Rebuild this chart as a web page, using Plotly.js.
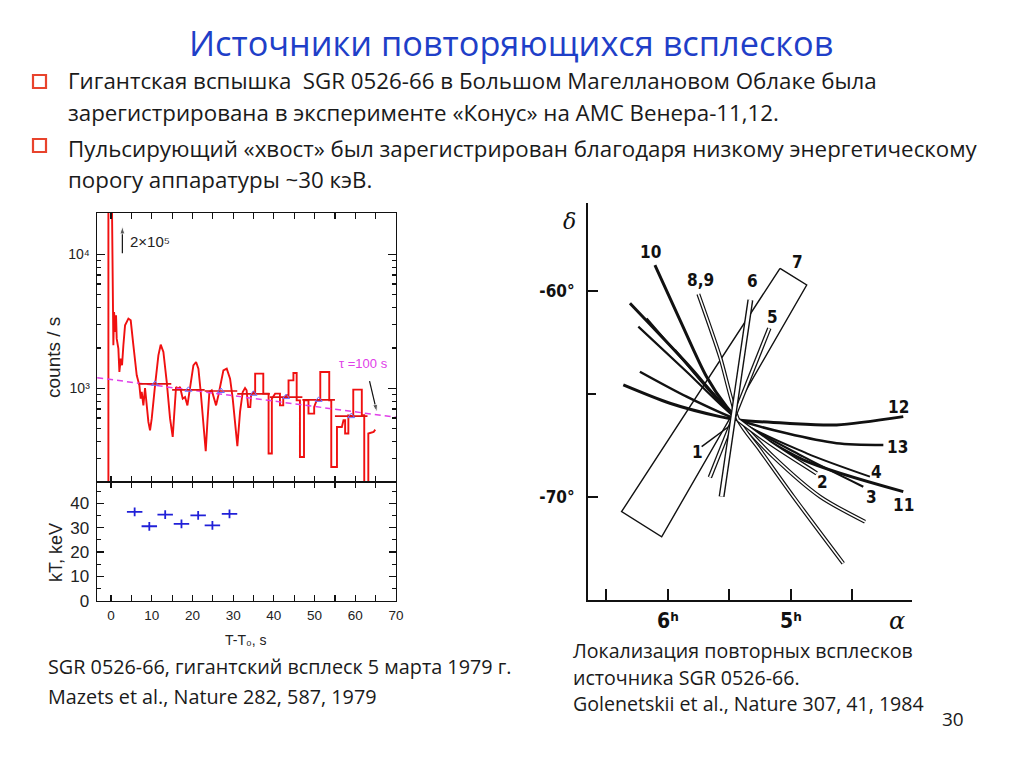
<!DOCTYPE html>
<html><head><meta charset="utf-8">
<script src="https://cdn.plot.ly/plotly-3.0.1.min.js"></script>
<style>html,body{margin:0;padding:0;background:#fff}#chart{width:1024px;height:767px}</style>
</head><body><div id="chart"></div>
<script>
// ---------- Left: Konus light curve of SGR 0526-66, 5 March 1979 ----------
const lcTime = [-0.65,-0.65,-0.08,0.41,0.57,0.74,1.06,1.23,1.39,1.8,2.05,2.38,2.70,3.03,3.44,4.26,4.83,5.49,6.31,6.96,7.29,7.53,7.94,8.35,8.76,9.17,9.58,9.99,10.81,11.63,12.2,12.86,13.68,14.5,15.15,15.48,15.97,16.54,16.95,17.61,18.18,18.76,19.41,19.82,20.23,20.89,21.46,22.03,22.69,23.26,23.67,24.16,24.73,25.3,25.8,26.37,26.94,27.6,28.42,29.24,29.89,30.46,31.03,31.69,32.35,32.92,33.3,33.7,34.2,34.4,35.0,35.4,35.4,37.4,37.4,38.7,38.7,39.5,39.5,40.3,41.5,41.5,42.3,42.3,43.2,43.6,43.6,44.8,44.8,45.6,45.6,46.4,46.4,47.4,47.4,48.5,48.5,49.9,49.9,50.5,51.4,51.4,53.6,53.6,54.1,54.1,55.5,55.5,56.7,57.1,57.5,57.5,58.3,58.3,59.5,59.5,61.6,61.6,62.2,62.2,63.2,63.2,64.5,64.9];
const lcCounts = [150,200000,200000,4405,2094,3705,2630,3505,2348,1977,1324,1666,1485,2094,2950,3312,3215,2094,1250,1053,837,939,746,1005,705,561,486,594,1053,1762,2118,1866,1115,594,434,594,1023,995,1023,837,861,746,1053,1250,1485,1572,1403,939,561,339,561,939,966,837,746,887,1115,1362,1403,1181,837,561,370,666,939,1005,966,725,725,887,938,938,1286,1286,912,912,326,326,837,912,912,746,746,837,887,887,1147,1147,1300,1300,813,813,307,307,813,813,647,647,725,813,813,1324,1324,813,813,259,259,515,515,577,577,460,460,629,618,978,978,629,629,150,150,460,472,492];
const binTime = [10.8, 19.0, 27.0, 35.0, 43.0, 51.0, 59.0];
const binCounts = [1080, 975, 955, 910, 860, 820, 620];
const binHalfWidth = 4;
const decayTime = [-3.4, 70];
const decayCounts = [1200, 608];
const peakArrowTime = [2.78, 2.78];
const peakArrowCounts = [10160, 16180];
const tauArrowTime = [63.5, 65.3];
const tauArrowCounts = [1133, 665];
const kTTime = [5.8, 9.4, 13.3, 17.3, 21.4, 24.9, 29.1];
const kTValue = [36.5, 30.6, 35.4, 31.6, 35.1, 31.0, 35.7];
const kTErrTime = 1.9;
const kTErrValue = 1.8;
const timeTicks = [0,10,20,30,40,50,60,70];
const timeMinor = [5,15,25,35,45,55,65];
const kTTicks = [0,10,20,30,40];
const kTMinor = [5,15,25,35,45];
const countMajor = [1000, 10000];
const countMajorText = ['10³', '10⁴'];
const countMinor = [300,400,500,600,700,800,900,2000,3000,4000,5000,6000,7000,8000,9000,20000];

// ---------- Right: localisation of repeated bursts (alpha in h, delta in deg) ----------
const t10RA = [6.106, 5.902, 5.686, 5.523, 5.428];
const t10Dec = [-58.74, -61.41, -64.16, -65.62, -66.26];
const t11RA = [6.309, 5.848, 5.428, 4.900, 4.087];
const t11Dec = [-60.60, -63.51, -66.26, -68.20, -69.74];
const t3RA = [6.241, 5.848, 5.428, 4.900, 4.412];
const t3Dec = [-61.73, -63.92, -66.26, -68.04, -69.50];
const t4RA = [6.173, 5.902, 5.428, 4.872, 4.358];
const t4Dec = [-61.33, -63.19, -66.26, -67.88, -69.01];
const t12RA = [6.363, 5.984, 5.577, 5.428, 5.035, 4.629, 4.087];
const t12Dec = [-64.56, -65.45, -66.10, -66.26, -66.42, -66.50, -66.10];
const t13RA = [6.228, 5.848, 5.428, 5.035, 4.629, 4.249];
const t13Dec = [-63.92, -65.13, -66.26, -66.91, -67.39, -67.48];
const tDRA = [5.943, 5.686, 5.428];
const tDDec = [-62.86, -64.64, -66.26];
const bDRA = [5.428, 5.144, 4.764, 4.398];
const bDDec = [-66.26, -68.04, -69.98, -71.20];
const b89RA = [5.753, 5.577, 5.428, 5.252, 4.981, 4.575];
const b89Dec = [-60.15, -63.19, -66.26, -67.72, -69.98, -73.22];
const b2RA = [5.428, 5.171, 4.791];
const b2Dec = [-66.26, -67.39, -68.85];
const t1RA = [5.726, 5.469];
const t1Dec = [-67.56, -66.42];
const b5RA = [5.176, 5.659];
const b5Dec = [-61.81, -69.05];
const b6RA = [5.330, 5.564];
const b6Dec = [-60.44, -69.98];
const box7RA = [5.089, 4.872, 6.051, 6.377, 5.089];
const box7Dec = [-58.90, -59.71, -71.93, -70.71, -58.90];
const raTicks = [6, 5];
const raTickText = ['6ʰ', '5ʰ'];
const raMinor = [6.5, 5.5, 4.5];
const decTicks = [-70, -60];
const decTickText = ['-70°', '-60°'];
const decMinor = [-65];

const W = 1024, H = 767;
const px = v => v / W, py = v => 1 - v / H;

const traces = [];
traces.push({x: lcTime, y: lcCounts, xaxis:'x', yaxis:'y', mode:'lines', line:{color:'#f01010', width:1.9}, hoverinfo:'skip'});
traces.push({x: decayTime, y: decayCounts, xaxis:'x', yaxis:'y', mode:'lines', line:{color:'#e040e8', width:1.5, dash:'6px,4px'}, hoverinfo:'skip'});
traces.push({x: binTime, y: binCounts, xaxis:'x', yaxis:'y', mode:'markers',
  marker:{symbol:'triangle-up-open', size:6, color:'#6f6fff', line:{width:1}},
  error_x:{type:'constant', value: binHalfWidth, width:0, color:'#e01010', thickness:1.7}, hoverinfo:'skip'});
[[peakArrowTime, peakArrowCounts], [tauArrowTime, tauArrowCounts]].forEach(([ax, ay]) => {
  traces.push({x: ax, y: ay, xaxis:'x', yaxis:'y', mode:'lines+markers', line:{color:'#111', width:1.2},
    marker:{symbol:'arrow', size:[0, 8], angleref:'previous', color:'#111'}, cliponaxis:false, hoverinfo:'skip'});
});
traces.push({x: kTTime, y: kTValue, xaxis:'x2', yaxis:'y2', mode:'markers',
  marker:{size:1, color:'rgba(0,0,0,0)'},
  error_x:{type:'constant', value:kTErrTime, width:0, color:'#2020d8', thickness:1.8},
  error_y:{type:'constant', value:kTErrValue, width:0, color:'#2020d8', thickness:1.8}, hoverinfo:'skip'});

function solid(ra, dec, w){
  traces.push({x: ra, y: dec, xaxis:'x3', yaxis:'y3', mode:'lines', line:{color:'#111', width:w, shape:'spline', smoothing:0.8}, hoverinfo:'skip'});
}
function band(ra, dec, w, inner){
  traces.push({x: ra, y: dec, xaxis:'x3', yaxis:'y3', mode:'lines', line:{color:'#111', width:w, shape:'spline', smoothing:0.8}, hoverinfo:'skip'});
  traces.push({x: ra, y: dec, xaxis:'x3', yaxis:'y3', mode:'lines', line:{color:'#fff', width:inner, shape:'spline', smoothing:0.8}, hoverinfo:'skip'});
}
traces.push({x: box7RA, y: box7Dec, xaxis:'x3', yaxis:'y3', mode:'lines', line:{color:'#111', width:1.4}, hoverinfo:'skip'});
solid(t12RA, t12Dec, 3);
solid(t13RA, t13Dec, 2.5);
solid(t11RA, t11Dec, 3);
solid(t3RA, t3Dec, 2.2);
solid(t4RA, t4Dec, 2);
solid(t10RA, t10Dec, 3);
solid(tDRA, tDDec, 2.2);
solid(t1RA, t1Dec, 1.5);
band(bDRA, bDDec, 4, 1.6);
band(b89RA, b89Dec, 4, 1.6);
band(b2RA, b2Dec, 4.5, 2);
band(b5RA, b5Dec, 4.5, 2);
band(b6RA, b6Dec, 6, 3.2);

const axFont = 'Liberation Sans, Arial, DejaVu Sans, sans-serif';
const tickFont = {family:axFont, size:14, color:'#222'};
const mapFont = {family:'DejaVu Sans Condensed, Liberation Sans Narrow, DejaVu Sans, sans-serif', size:17, color:'#111', weight:'bold'};
const textFont = (s, c) => ({family:'Open Sans, Lato, sans-serif', size:s, color:c || '#1a1a1a'});

const annotations = [
  {text:'Источники повторяющихся всплесков', x:px(511), y:py(42), xanchor:'center', yanchor:'middle', font:textFont(34.3, '#1f3fc8')},
  {text:'Гигантская вспышка \u00a0SGR 0526-66 в Большом Магеллановом Облаке была', x:px(66), y:py(81), xanchor:'left', yanchor:'middle', font:textFont(22.3)},
  {text:'зарегистрирована в эксперименте «Конус» на АМС Венера-11,12.', x:px(66), y:py(113), xanchor:'left', yanchor:'middle', font:textFont(22.3)},
  {text:'Пульсирующий «хвост» был зарегистрирован благодаря низкому энергетическому', x:px(66), y:py(148), xanchor:'left', yanchor:'middle', font:textFont(22.3)},
  {text:'порогу аппаратуры ~30 кэВ.', x:px(66), y:py(180), xanchor:'left', yanchor:'middle', font:textFont(22.3)},
  {text:'SGR 0526-66, гигантский всплеск 5 марта 1979 г.', x:px(46), y:py(666), xanchor:'left', yanchor:'middle', font:textFont(19.8)},
  {text:'Mazets et al., Nature 282, 587, 1979', x:px(46), y:py(696), xanchor:'left', yanchor:'middle', font:textFont(19.8)},
  {text:'Локализация повторных всплесков', x:px(571), y:py(650), xanchor:'left', yanchor:'middle', font:textFont(19.6)},
  {text:'источника SGR 0526-66.', x:px(571), y:py(677), xanchor:'left', yanchor:'middle', font:textFont(19.6)},
  {text:'Golenetskii et al., Nature 307, 41, 1984', x:px(571), y:py(703), xanchor:'left', yanchor:'middle', font:textFont(19.6)},
  {text:'30', x:px(953), y:py(719), xanchor:'center', yanchor:'middle', font:textFont(19)},
  // left chart labels
  {text:'counts / s', x:px(53), y:py(358), textangle:-90, xanchor:'center', yanchor:'middle', font:{family:axFont, size:19, color:'#222'}},
  {text:'kT, keV', x:px(56), y:py(553), textangle:-90, xanchor:'center', yanchor:'middle', font:{family:axFont, size:18, color:'#222'}},
  {text:'T-T₀, s', x:px(246), y:py(640), xanchor:'center', yanchor:'middle', font:{family:axFont, size:14, color:'#222'}},
  {text:'2×10⁵', x:px(128), y:py(241), xanchor:'left', yanchor:'middle', font:{family:axFont, size:15, color:'#222'}},
  {text:'τ =100 s', x:px(337), y:py(363), xanchor:'left', yanchor:'middle', font:{family:axFont, size:13, color:'#e040e8'}},
  // right chart labels
  {text:'δ', x:px(569), y:py(222), xanchor:'center', yanchor:'middle', font:{family:'DejaVu Serif, serif', size:22, color:'#111', style:'italic'}},
  {text:'α', x:px(897), y:py(621), xanchor:'center', yanchor:'middle', font:{family:'DejaVu Serif, serif', size:24, color:'#111', style:'italic'}},
  {text:'10', x:px(650), y:py(252), xanchor:'center', yanchor:'middle', font:mapFont},
  {text:'8,9', x:px(700), y:py(280), xanchor:'center', yanchor:'middle', font:mapFont},
  {text:'6', x:px(752), y:py(281), xanchor:'center', yanchor:'middle', font:mapFont},
  {text:'7', x:px(797), y:py(262), xanchor:'center', yanchor:'middle', font:mapFont},
  {text:'5', x:px(772), y:py(317), xanchor:'center', yanchor:'middle', font:mapFont},
  {text:'12', x:px(898), y:py(407), xanchor:'center', yanchor:'middle', font:mapFont},
  {text:'13', x:px(897), y:py(447), xanchor:'center', yanchor:'middle', font:mapFont},
  {text:'4', x:px(876), y:py(472), xanchor:'center', yanchor:'middle', font:mapFont},
  {text:'2', x:px(822), y:py(482), xanchor:'center', yanchor:'middle', font:mapFont},
  {text:'3', x:px(871), y:py(497), xanchor:'center', yanchor:'middle', font:mapFont},
  {text:'11', x:px(903), y:py(505), xanchor:'center', yanchor:'middle', font:mapFont},
  {text:'1', x:px(697), y:py(452), xanchor:'center', yanchor:'middle', font:mapFont}
].map(a => Object.assign({xref:'paper', yref:'paper', showarrow:false}, a));

const shapes = [
  {type:'rect', xref:'paper', yref:'paper', x0:px(33), x1:px(46), y0:py(75), y1:py(88), line:{color:'#e8432c', width:2.2}},
  {type:'rect', xref:'paper', yref:'paper', x0:px(33), x1:px(46), y0:py(139), y1:py(152), line:{color:'#e8432c', width:2.2}}
];

const minorTicks = (vals, len) => ({tickmode:'array', tickvals:vals, ticklen:len, ticks:'inside', tickcolor:'#111', tickwidth:1.2});
const frameAxis = {showline:true, linecolor:'#111', linewidth:1.4, mirror:'ticks', ticks:'inside', tickcolor:'#111', tickwidth:1.2, showgrid:false, zeroline:false, tickfont:tickFont, fixedrange:true};

const layout = {
  width: W, height: H, margin:{l:0, r:0, t:0, b:0}, paper_bgcolor:'#fff', plot_bgcolor:'rgba(0,0,0,0)', showlegend:false,
  xaxis: Object.assign({}, frameAxis, {domain:[px(97), px(396)], range:[-3.45, 70], anchor:'y', tickmode:'array', tickvals:timeTicks, showticklabels:false, ticklen:6, minor:minorTicks(timeMinor, 6)}),
  yaxis: Object.assign({}, frameAxis, {domain:[py(482), py(213)], type:'log', range:[2.301, 4.308], anchor:'x', tickmode:'array', tickvals:countMajor, ticktext:countMajorText, ticklen:8, ticklabelstandoff:3,
    minor:minorTicks(countMinor, 4)}),
  xaxis2: Object.assign({}, frameAxis, {domain:[px(97), px(396)], range:[-3.45, 70], anchor:'y2', tickmode:'array', tickvals:timeTicks, ticklen:6, ticklabelstandoff:2, tickfont:Object.assign({}, tickFont, {size:13.5}), minor:minorTicks(timeMinor, 6)}),
  yaxis2: Object.assign({}, frameAxis, {domain:[py(600.7), py(482)], range:[0, 48.8], anchor:'x2', tickmode:'array', tickvals:kTTicks, ticklen:7, ticklabelstandoff:3, tickfont:Object.assign({}, tickFont, {size:17}),
    minor:minorTicks(kTMinor, 4)}),
  xaxis3: {domain:[px(588), px(912)], range:[6.65, 4.016], anchor:'y3', showline:true, linecolor:'#111', linewidth:2, ticks:'inside', ticklen:11, tickwidth:2, tickcolor:'#111', tickmode:'array', tickvals:raTicks, ticktext:raTickText, showgrid:false, zeroline:false, ticklabelstandoff:1, tickfont:Object.assign({}, mapFont, {size:21}), fixedrange:true,
    minor:{tickmode:'array', tickvals:raMinor, ticklen:11, ticks:'inside', tickcolor:'#111', tickwidth:2}},
  yaxis3: {domain:[py(600), py(203)], range:[-75, -55.73], anchor:'x3', showline:true, linecolor:'#111', linewidth:2, ticks:'inside', ticklen:10, tickwidth:2, tickcolor:'#111', tickmode:'array', tickvals:decTicks, ticktext:decTickText, showgrid:false, zeroline:false, ticklabelstandoff:8, tickfont:mapFont, fixedrange:true,
    minor:{tickmode:'array', tickvals:decMinor, ticklen:8, ticks:'inside', tickcolor:'#111', tickwidth:2}},
  annotations: annotations,
  shapes: shapes
};

Plotly.newPlot('chart', traces, layout, {staticPlot:true, displayModeBar:false});
</script></body></html>
